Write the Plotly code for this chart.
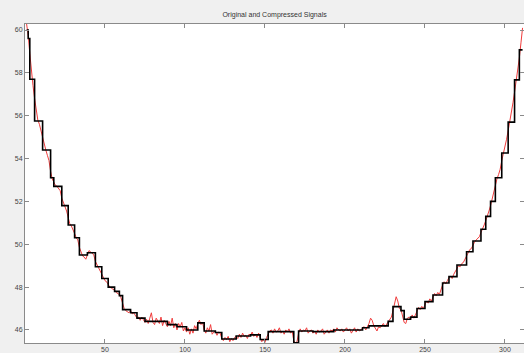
import plotly.graph_objects as go

# Original sampled signal, one value per sample index 1..311
original = [
    60.28, 59.75, 58.9, 58.0, 57.4, 56.8, 56.2, 55.8, 55.6, 55.3,
    54.9, 54.6, 54.4, 54.15, 53.9, 53.4, 53.05, 52.9, 52.75, 52.7,
    52.6, 52.5, 52.15, 51.9, 51.75, 51.55, 51.2, 50.95, 50.85, 50.7,
    50.5, 50.3, 50.2, 49.85, 49.6, 49.45, 49.4, 49.3, 49.5, 49.7,
    49.65, 49.55, 49.5, 49.2, 49.0, 48.9, 48.75, 48.6, 48.45, 48.3,
    48.25, 48.1, 48.0, 47.95, 47.9, 47.85, 47.75, 47.7, 47.65, 47.5,
    47.2, 47.0, 46.9, 46.85, 46.8, 46.9, 46.75, 46.8, 46.7, 46.55,
    46.6, 46.45, 46.6, 46.5, 46.35, 46.5, 46.3, 46.55, 46.8, 46.35,
    46.25, 46.55, 46.4, 46.3, 46.6, 46.2, 46.45, 46.3, 46.15, 46.4,
    46.2, 46.55, 46.1, 46.3, 46.0, 46.3, 46.15, 46.35, 45.95, 46.1,
    45.9, 46.1, 45.8, 46.05, 45.85, 46.2, 46.05, 46.3, 46.45, 46.25,
    46.35, 46.0, 45.85, 46.1, 45.95, 46.25, 45.8, 45.9, 45.95, 45.75,
    45.9, 45.85, 45.6, 45.5, 45.65, 45.55, 45.7, 45.45, 45.6, 45.5,
    45.65, 45.7, 45.6, 45.8, 45.65, 45.85, 45.7, 45.75, 45.6, 45.8,
    45.75, 45.9, 45.7, 45.8, 45.65, 45.85, 45.6, 45.45, 45.55, 45.42,
    45.65, 45.8, 45.95, 46.0, 45.85, 46.05, 45.9, 45.95, 46.1, 45.85,
    45.95, 45.8, 46.0, 45.9, 46.05, 45.85, 45.95, 45.5, 45.39, 45.45,
    45.85, 46.05, 45.9, 46.0, 45.95, 46.1, 45.85, 45.95, 46.0, 45.85,
    45.95, 45.8, 46.0, 45.9, 45.95, 46.05, 45.8, 45.9, 46.0, 45.85,
    46.0, 45.95, 46.05, 45.9, 46.1, 46.0, 45.95, 46.05, 45.9, 46.0,
    46.1, 45.95, 46.05, 45.85, 46.0, 46.1, 45.9, 46.05, 45.95, 46.0,
    46.1, 46.15, 46.0, 46.15, 46.3, 46.55, 46.45, 46.2, 46.05, 45.95,
    46.15, 46.1, 46.2, 46.3, 46.15, 46.25, 46.35, 46.45, 46.6, 46.9,
    47.3, 47.55, 47.35, 47.0, 46.95, 46.6, 46.35, 46.3, 46.55, 46.6,
    46.5, 46.7, 46.55, 46.7, 46.9, 47.05, 46.95, 47.1, 47.0, 47.2,
    47.35, 47.25, 47.45, 47.35, 47.5, 47.7, 47.6, 47.75, 47.65, 47.9,
    48.1, 48.25, 48.15, 48.3, 48.45, 48.5, 48.4, 48.6, 48.75, 48.9,
    49.0, 48.95, 49.1, 49.15, 49.3, 49.5, 49.65, 49.75, 49.8, 50.0,
    50.1, 50.2, 50.3, 50.35, 50.55, 50.7, 50.9, 51.1, 51.3, 51.55,
    51.8, 52.1, 52.5, 52.8, 53.05, 53.25, 53.5, 53.9, 54.2, 54.5,
    54.9, 55.3, 55.7, 56.1, 56.6, 57.1, 57.6, 58.1, 58.7, 59.4,
    60.1,
]
sample_index = list(range(1, len(original) + 1))

# Compressed signal: piecewise-constant segments (segment start index, level)
segment_start = [
    1, 2, 3, 6, 11, 16, 18, 23, 27, 31,
    34, 39, 44, 48, 52, 56, 59, 61, 66, 70,
    75, 89, 95, 101, 108, 112, 119, 123, 132, 141,
    147, 152, 168, 171, 180, 193, 211, 215, 227, 230,
    235, 237, 241, 245, 250, 255, 261, 265, 270, 276,
    280, 285, 288, 291, 294, 298, 302, 306, 309, 311,
]
segment_level = [
    60.0, 59.6, 57.7, 55.75, 54.4, 53.1, 52.7, 51.8, 50.9, 50.3,
    49.5, 49.6, 48.95, 48.4, 48.0, 47.8, 47.6, 46.95, 46.8, 46.55,
    46.4, 46.25, 46.15, 46.0, 46.33, 45.95, 45.88, 45.58, 45.72, 45.77,
    45.55, 45.92, 45.4, 45.95, 45.92, 46.0, 46.1, 46.19, 46.4, 47.09,
    46.9, 46.5, 46.6, 47.0, 47.32, 47.63, 48.19, 48.49, 49.03, 49.65,
    50.15, 50.7, 51.3, 52.0, 53.1, 54.26, 55.7, 57.67, 59.07, 59.07,
]

x_ticks = [50, 100, 150, 200, 250, 300]
y_ticks = [46, 48, 50, 52, 54, 56, 58, 60]

fig = go.Figure()
fig.add_trace(go.Scatter(
    x=sample_index, y=original, mode="lines",
    line=dict(color="#f03c3c", width=1), name="Original",
))
fig.add_trace(go.Scatter(
    x=segment_start, y=segment_level, mode="lines",
    line=dict(color="#000000", width=1.6, shape="hv"), name="Compressed",
))

axis_common = dict(
    showgrid=False, zeroline=False, showline=True, linecolor="#8a8a8a",
    linewidth=1, mirror="ticks", ticks="inside", ticklen=4,
    tickcolor="#8a8a8a", tickwidth=1,
    tickfont=dict(family="Liberation Sans", size=7, color="#444444"),
)

fig.update_layout(
    width=524, height=353,
    margin=dict(l=25, r=0, t=24, b=10),
    paper_bgcolor="#f0f0f0", plot_bgcolor="#ffffff",
    showlegend=False,
    title=dict(
        text="Original and Compressed Signals",
        x=0.524, xanchor="center", xref="container",
        y=1 - 15 / 353, yanchor="middle", yref="container",
        font=dict(family="Liberation Sans", size=7, color="#333333"),
    ),
    xaxis=dict(range=[0, 311.9], tickvals=x_ticks, **axis_common),
    yaxis=dict(range=[45.39, 60.28], tickvals=y_ticks, **axis_common),
)

fig.write_html("out.html")
